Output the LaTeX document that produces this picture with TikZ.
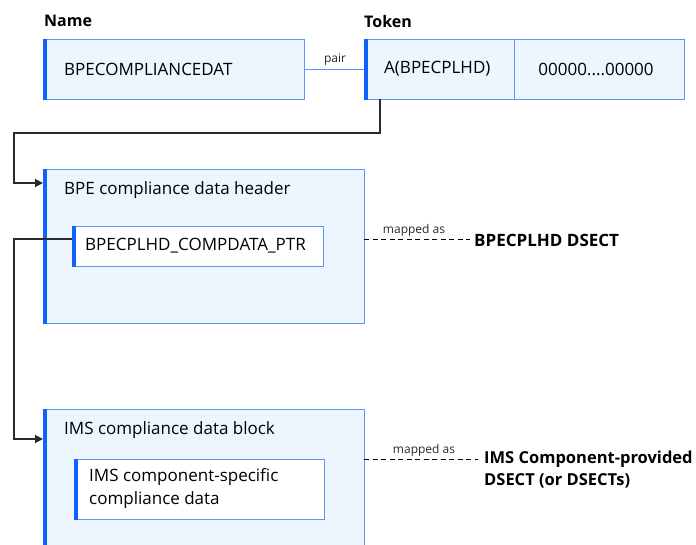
\documentclass[tikz,border=0pt]{standalone}
\usepackage{fontspec}
\setmainfont{Open Sans}
\usetikzlibrary{arrows.meta}
\definecolor{boxfill}{HTML}{EDF5FF}
\definecolor{bordblue}{HTML}{5B93FF}
\definecolor{barblue}{HTML}{0F62FE}
\definecolor{conn}{HTML}{2A2A2A}
\tikzset{
  box/.style={draw=bordblue, fill=boxfill, line width=1.2pt, anchor=north west, inner sep=0pt},
  wbox/.style={draw=bordblue, fill=white, line width=1.2pt, anchor=north west, inner sep=0pt},
  txt/.style={font=\fontsize{17}{20}\selectfont, anchor=west, inner sep=0pt},
  head/.style={font=\fontsize{16}{19}\selectfont\bfseries, anchor=west, inner sep=0pt},
  bold/.style={font=\fontsize{17}{20}\selectfont\bfseries, anchor=west, inner sep=0pt},
  small/.style={font=\fontsize{12}{14}\selectfont, inner sep=0pt, text=conn},
  conline/.style={draw=conn, line width=1.2pt},
  arr/.style={conline, -{Triangle[length=8pt,width=8pt]}},
  dline/.style={draw=black, line width=1pt, dash pattern=on 5pt off 3.5pt},
}
\begin{document}
\begin{tikzpicture}[x=1pt,y=-1pt]
\clip (0,0) rectangle (696,544);
\fill[white] (0,0) rectangle (696,544);
% headings
\node[head] (hname) at (44,21) {Name};
\node[head] (htoken) at (364,21) {Token};
% name box
\node[box, minimum width=261pt, minimum height=60pt] (name) at (43,39) {};
\fill[barblue] (name.north west) rectangle ([xshift=4pt]name.south west);
\node[txt] (namet) at (64,69) {BPECOMPLIANCEDAT};
% token box
\node[box, minimum width=150pt, minimum height=60pt] (tok1) at (364,39) {};
\node[box, minimum width=170pt, minimum height=60pt] (tok2) at (514,39) {};
\fill[barblue] (tok1.north west) rectangle ([xshift=4pt]tok1.south west);
\node[txt] (tok1t) at (384,69) {A(BPECPLHD)};
\node[txt, anchor=center] (tok2t) at (596,69) {00000....00000};
% pair
\draw[draw=bordblue, line width=1.2pt] (name.east) -- (tok1.west);
\node[small] (pair) at (335,60) {pair};
% header box
\node[box, minimum width=321pt, minimum height=154pt] (hdr) at (43,169) {};
\fill[barblue] (hdr.north west) rectangle ([xshift=4pt]hdr.south west);
\node[txt] (hdrt) at (64,190) {BPE compliance data header};
\node[wbox, minimum width=251pt, minimum height=40pt] (ptr) at (72,226) {};
\fill[barblue] (ptr.north west) rectangle ([xshift=4pt]ptr.south west);
\node[txt] (ptrt) at (85,246) {BPECPLHD\_COMPDATA\_PTR};
% IMS block
\node[box, minimum width=321pt, minimum height=160pt] (ims) at (43,409) {};
\fill[barblue] (ims.north west) rectangle ([xshift=4pt]ims.south west);
\node[txt] (imst) at (64,430) {IMS compliance data block};
\node[wbox, minimum width=250pt, minimum height=60pt] (comp) at (74,459) {};
\fill[barblue] (comp.north west) rectangle ([xshift=4pt]comp.south west);
\node[txt, align=left, font=\fontsize{17}{23}\selectfont] (compt) at (89,489) {IMS component-specific\\compliance data};
% connectors
\coordinate (c1) at (380,133);
\coordinate (c2) at (14,133);
\coordinate (c3) at (14,183);
\draw[arr] (380,99) -- (c1) -- (c2) -- (c3) -- (43,183);
\coordinate (d0) at (72,239);
\coordinate (d1) at (14,239);
\coordinate (d2) at (14,439);
\draw[arr] (d0) -- (d1) -- (d2) -- (43,439);
% mapped as
\node[bold] (dsect1) at (474,240) {BPECPLHD DSECT};
\draw[dline] (364,239) -- (470,239);
\node[small] (map1) at (414,230) {mapped as};
\node[bold, align=left, font=\fontsize{16.5}{22}\selectfont\bfseries] (dsect2) at (484,470) {IMS Component-provided\\DSECT (or DSECTs)};
\draw[dline] (364,459) -- (478,459);
\node[small] (map2) at (424,450) {mapped as};
\end{tikzpicture}
\end{document}
